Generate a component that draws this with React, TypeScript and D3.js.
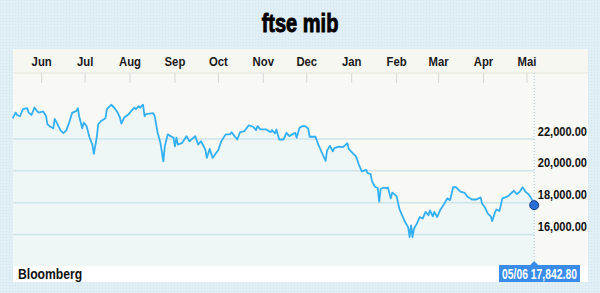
import React from "react";
import * as d3 from "d3";

const title = "ftse mib";
const source = "Bloomberg";
const lastLabel = "05/06 17,842.80";
const startDate = new Date(2015, 4, 12);
const endDate = new Date(2016, 4, 6);
const monthLabels = ["Jun", "Jul", "Aug", "Sep", "Oct", "Nov", "Dec", "Jan", "Feb", "Mar", "Apr", "Mai"];
const yTicks = [16000, 18000, 20000, 22000];

// days since 12 May 2015
const dayOffsets = [
  0, 2, 3, 5, 7, 10, 11, 13, 15, 17, 18, 21, 23, 24, 26, 28, 29, 31, 33, 35,
  37, 39, 41, 44, 45, 46, 48, 49, 51, 53, 55, 56, 58, 59, 61, 64, 65, 68, 70, 72,
  74, 75, 77, 80, 82, 84, 85, 87, 88, 90, 91, 92, 97, 98, 100, 102, 104, 105, 107, 109,
  111, 112, 113, 114, 117, 120, 122, 126, 128, 130, 133, 134, 136, 138, 142, 144, 147, 150, 151, 155,
  157, 160, 163, 166, 168, 169, 171, 175, 178, 179, 181, 182, 184, 187, 189, 191, 193, 195, 196, 198,
  200, 202, 204, 205, 209, 211, 213, 216, 217, 219, 221, 222, 225, 228, 231, 232, 235, 237, 239, 241,
  244, 245, 247, 248, 250, 252, 253, 254, 256, 258, 259, 261, 262, 263, 265, 267, 269, 271, 273, 274,
  275, 276, 277, 279, 281, 283, 285, 287, 288, 290, 291, 293, 295, 298, 300, 302, 304, 306, 309, 312,
  314, 317, 320, 323, 324, 326, 328, 330, 331, 333, 334, 336, 338, 340, 342, 346, 348, 350, 352, 354,
  356, 358, 360,
];

const values = [
  23300, 23660, 23510, 23430, 23870, 23940, 23660, 23510, 23980, 23730, 23660, 23730, 23450, 22920, 22770, 22670, 23260, 22920, 22540, 22370,
  22540, 23030, 23640, 23770, 23940, 23380, 22670, 23030, 22810, 22110, 21650, 21060, 22080, 22920, 23130, 23300, 23870, 24150, 23980, 23730,
  23350, 22970, 23350, 23560, 23770, 23980, 23870, 24060, 23980, 24150, 23430, 23560, 23620, 23450, 22410, 21760, 20590, 21540, 22290, 22180,
  22080, 21540, 22080, 21650, 21760, 22180, 21860, 22180, 21650, 21860, 21330, 20810, 21380, 20810, 21330, 21860, 22290, 22290, 22430, 21970,
  22430, 22500, 22860, 22770, 22560, 22810, 22600, 22600, 22430, 22560, 22350, 22600, 21970, 21970, 22390, 22180, 22290, 22390, 22080, 22710,
  22810, 22810, 22650, 22140, 22140, 21650, 21230, 20630, 21270, 21570, 21230, 21430, 21520, 21490, 21730, 21380, 21080, 20910, 20380, 19960,
  20060, 19850, 19810, 19370, 19000, 18920, 18050, 18860, 18950, 18920, 18950, 18270, 18630, 18570, 18410, 17590, 17170, 16760, 16460, 15830,
  16570, 15830, 16360, 16680, 17100, 17000, 17420, 17210, 17520, 17140, 17420, 17100, 17520, 17950, 18270, 18160, 18970, 18970, 18690, 18620,
  18370, 18200, 18200, 18330, 17950, 17700, 17310, 17140, 16840, 17420, 17570, 17480, 18270, 18330, 18410, 18750, 18540, 18690, 18970, 18690,
  18540, 18270, 17843,
];

const FONT = "'Liberation Sans', Arial, sans-serif";

function T(props: { x: number; y: number; size: number; sx: number; anchor?: string; fill?: string; stroke?: number; children: any }) {
  const { x, y, size, sx, anchor = "start", fill = "#111", stroke = 0, children } = props;
  return (
    <text
      transform={`translate(${x},${y}) scale(${sx},1)`}
      textAnchor={anchor}
      fontFamily={FONT}
      fontWeight="bold"
      fontSize={size}
      fill={fill}
      stroke={stroke ? fill : "none"}
      strokeWidth={stroke}
    >
      {children}
    </text>
  );
}

export default function App() {
  const W = 600, H = 293;
  const panelL = 13, panelR = 588, panelT = 49, headerB = 73, stripT = 266, panelB = 282;
  const x = d3.scaleTime().domain([startDate, endDate]).range([12.7, 534.2]);
  const y = d3.scaleLinear().domain([16000, 22000]).range([234.5, 139]);
  const data = dayOffsets.map((d, i) => ({ date: d3.timeDay.offset(startDate, d), v: values[i] }));
  const line = d3.line<any>().x((d) => x(d.date)).y((d) => y(d.v));
  const area = d3.area<any>().x((d) => x(d.date)).y0(stripT).y1((d) => y(d.v));
  const months = d3.timeMonth.range(new Date(2015, 5, 1), new Date(2016, 4, 2));
  const last = data[data.length - 1];
  const lx = x(last.date), ly = y(last.v);

  return (
    <div style={{ position: "absolute", left: 0, top: 0, width: W, height: H }}>
      <svg width={W} height={H} style={{ display: "block" }}>
        <defs>
          <pattern id="dots" width="3" height="3" patternUnits="userSpaceOnUse">
            <rect width="3" height="3" fill="#e0eef5" />
            <rect width="1" height="1" fill="#d3e6ef" />
          </pattern>
        </defs>
        <rect width={W} height={H} fill="url(#dots)" />
        <T x={300} y={32} size={26} sx={0.77} anchor="middle" fill="#000" stroke={0.9}>{title}</T>
        <rect x={panelL} y={panelT} width={panelR - panelL} height={panelB - panelT} fill="#f8f8f4" />
        <rect x={panelL} y={panelT} width={panelR - panelL} height={headerB - panelT} fill="#f7f7f2" />
        <line x1={panelL} x2={panelR} y1={headerB} y2={headerB} stroke="#e4e4dd" strokeWidth={1} />
        {months.map((m, i) => (
          <g key={i}>
            <line x1={x(m)} x2={x(m)} y1={headerB} y2={headerB + 10} stroke="#d9d9d2" strokeWidth={1} />
            <T x={x(m)} y={66} size={13.5} sx={0.84} anchor="middle" fill="#1a1a1a">{monthLabels[i]}</T>
          </g>
        ))}
        <path d={area(data) || ""} fill="#eef6f6" />
        {yTicks.map((t) => (
          <g key={t}>
            <line x1={panelL} x2={lx} y1={y(t)} y2={y(t)} stroke="#cfe4e8" strokeWidth={1.5} />
            <T x={587} y={y(t) - 3.5} size={13.5} sx={0.82} anchor="end">{d3.format(",.2f")(t)}</T>
          </g>
        ))}
        <line x1={lx} x2={lx} y1={headerB} y2={stripT} stroke="#9cc9e2" strokeWidth={1} strokeDasharray="1,2" />
        <path d={line(data) || ""} fill="none" stroke="#33b0f3" strokeWidth={1.8} strokeLinejoin="round" />
        <rect x={panelL} y={stripT} width={panelR - panelL} height={panelB - stripT} fill="#ffffff" />
        <T x={18} y={278.5} size={14} sx={0.87}>{source}</T>
        <rect x={499} y={265} width={81} height={17} fill="#3a8ce8" />
        <path d={`M${lx - 4},265 L${lx},261 L${lx + 4},265 Z`} fill="#3a8ce8" />
        <T x={539.5} y={278.5} size={14} sx={0.74} anchor="middle" fill="#fff">{lastLabel}</T>
        <circle cx={lx} cy={ly} r={4.5} fill="#2a6fd8" stroke="#123a7a" strokeWidth={1} />
      </svg>
    </div>
  );
}
